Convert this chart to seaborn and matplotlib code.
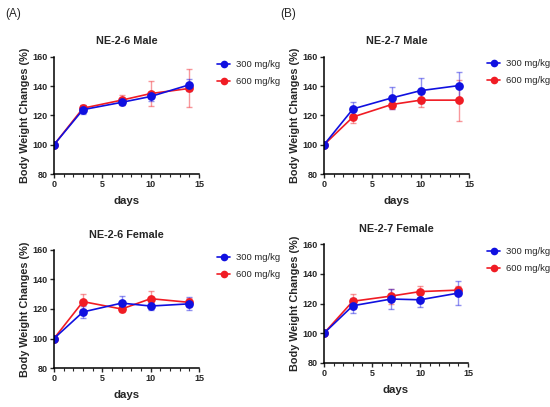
import numpy as np
import pandas as pd
import matplotlib
matplotlib.use("Agg")
import matplotlib.pyplot as plt
from matplotlib.ticker import MultipleLocator
import seaborn as sns

sns.set_style("ticks")
plt.rcParams['font.family'] = ['Liberation Sans', 'DejaVu Sans']

days = [0, 3, 7, 10, 14]
groups = ["300 mg/kg", "600 mg/kg"]

# NE-2-6 Male
m26_300 = [100, 124, 129, 133, 141]
m26_300_err = [0, 3, 2, 3, 4]
m26_600 = [100, 125, 130.5, 135, 138.5]
m26_600_err = [0, 2, 3.5, 8.5, 13]
# NE-2-7 Male
m27_300 = [100, 124.5, 132, 137, 140.5]
m27_300_err = [0, 5, 7.5, 8.5, 9.5]
m27_600 = [100, 119, 127.5, 130.5, 130.5]
m27_600_err = [0, 4, 3, 4.5, 14]
# NE-2-6 Female
f26_300 = [100, 118, 124, 122, 123.5]
f26_300_err = [0, 4, 5, 3, 4.5]
f26_600 = [100, 125, 120, 127, 124.5]
f26_600_err = [0, 5, 2, 5, 3]
# NE-2-7 Female
f27_300 = [100, 118.5, 123, 122.5, 127]
f27_300_err = [0, 5, 7, 5, 8]
f27_600 = [100, 121.5, 125, 128, 129]
f27_600_err = [0, 5, 5, 4, 3]

titles = ["NE-2-6 Male", "NE-2-7 Male", "NE-2-6 Female", "NE-2-7 Female"]
series = [
    (m26_300, m26_300_err, m26_600, m26_600_err),
    (m27_300, m27_300_err, m27_600, m27_600_err),
    (f26_300, f26_300_err, f26_600, f26_600_err),
    (f27_300, f27_300_err, f27_600, f27_600_err),
]
colors = {"300 mg/kg": "#1010E0", "600 mg/kg": "#F01C24"}

W, H = 550, 407
fig = plt.figure(figsize=(5.5, 4.07), dpi=100)

# axes boxes in pixels: left, top, right, bottom
boxes = [(54, 57, 199, 174), (324, 57, 469, 174), (54, 250, 199, 368), (324, 244, 468, 363)]
legend_pos = [(217, 60), (487, 59), (217, 253), (487, 247)]

for i, (title, s) in enumerate(zip(titles, series)):
    l, t, r, b = boxes[i]
    ax = fig.add_axes([l / W, 1 - b / H, (r - l) / W, (b - t) / H])
    v300, e300, v600, e600 = s
    df = pd.DataFrame({
        "days": days * 2,
        "value": v300 + v600,
        "err": e300 + e600,
        "group": [groups[0]] * len(days) + [groups[1]] * len(days),
    })
    for g in groups[::-1]:
        sub = df[df.group == g]
        ax.errorbar(sub["days"], sub["value"], yerr=sub["err"], fmt="none",
                    ecolor=colors[g], alpha=0.45, elinewidth=1.0, capsize=2.4, capthick=1.0)
    sns.lineplot(data=df, x="days", y="value", hue="group", hue_order=groups[::-1],
                 palette=colors, marker="o", markersize=6.3, markeredgewidth=0,
                 linewidth=1.2, ax=ax, legend=False)
    ax.set_xlim(0, 15)
    ax.set_ylim(80, 160)
    ax.set_xticks([0, 5, 10, 15])
    ax.xaxis.set_minor_locator(MultipleLocator(1))
    ax.set_yticks([80, 100, 120, 140, 160])
    sns.despine(ax=ax)
    for sp in ["left", "bottom"]:
        ax.spines[sp].set_linewidth(1.1)
        ax.spines[sp].set_color("black")
    ax.tick_params(axis="both", which="major", length=3, width=1.0, labelsize=6.5, pad=1.5)
    ax.tick_params(axis="x", which="minor", length=2, width=0.8)
    for lab in ax.get_xticklabels() + ax.get_yticklabels():
        lab.set_fontweight("bold")
    ax.set_title(title, fontsize=7.8, fontweight="bold", pad=9)
    ax.set_xlabel("days", fontsize=8.2, fontweight="bold", labelpad=5)
    ax.set_ylabel("Body Weight Changes (%)", fontsize=7.8, fontweight="bold", labelpad=2)

    # legend
    lx, ly = legend_pos[i]
    handles = [plt.Line2D([0], [0], color=colors[g], marker="o", markersize=5.5,
                          markeredgewidth=0, linewidth=1.2) for g in groups]
    fig.legend(handles, groups, loc="upper left", bbox_to_anchor=(lx / W, 1 - ly / H),
               frameon=False, fontsize=6.8, handlelength=1.4, handletextpad=0.6,
               labelspacing=0.85, borderaxespad=0, borderpad=0)

fig.text(5 / W, 1 - 14 / H, "(A)", fontsize=8.5, va="center", ha="left")
fig.text(280 / W, 1 - 14 / H, "(B)", fontsize=8.5, va="center", ha="left")

fig.savefig("out.png", dpi=100)
